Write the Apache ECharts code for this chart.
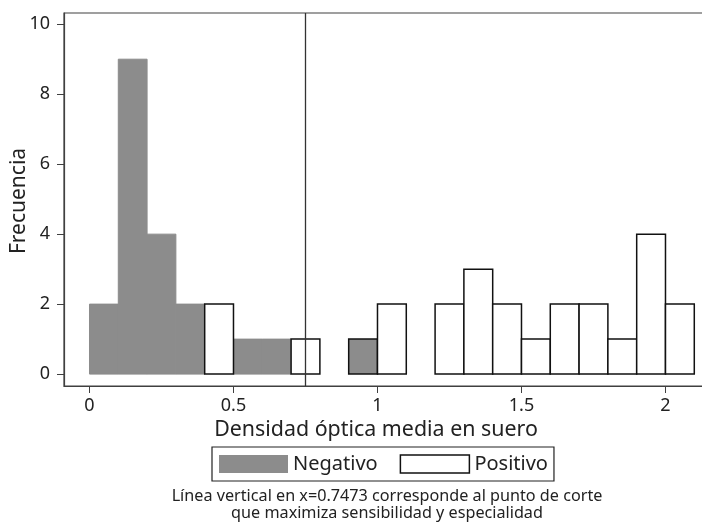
<!DOCTYPE html>
<html>
<head>
<meta charset="utf-8">
<script src="https://cdn.jsdelivr.net/npm/echarts@6/dist/echarts.min.js"></script>
<style>html,body{margin:0;padding:0;background:#fff}#c{width:702px;height:522px}</style>
</head>
<body>
<div id="c"></div>
<script>
// Data
const binStarts = [0.0,0.1,0.2,0.3,0.4,0.5,0.6,0.7,0.8,0.9,1.0,1.1,1.2,1.3,1.4,1.5,1.6,1.7,1.8,1.9,2.0];
const binWidth = 0.1;
const negativo = [2,9,4,2,0,1,1,0,0,1,0,0,0,0,0,0,0,0,0,0,0];
const positivo = [0,0,0,0,2,0,0,1,0,0,2,0,2,3,2,1,2,2,1,4,2];
const cutoff = 0.7473;
const xTicks = [0, 0.5, 1, 1.5, 2];
const xTickLabels = ['0', '0.5', '1', '1.5', '2'];
const yTicks = [0, 2, 4, 6, 8, 10];
const outlinedNegBins = [0.9];
const yTitle = 'Frecuencia';
const note = 'Línea vertical en x=0.7473 corresponde al punto de corte\nque maximiza sensibilidad y especialidad';

const FONT = 'Noto Sans';
const GRAY = '#8c8c8c';

function toData(counts) {
  return binStarts.map((s, i) => [s, counts[i]]).filter(d => d[1] > 0);
}

function makeRender(fill, strokeFn, defaultStroke) {
  return function (params, api) {
    const x0 = api.value(0), c = api.value(1);
    const p0 = api.coord([x0, 0]);
    const p1 = api.coord([x0 + binWidth, c]);
    const s = strokeFn(x0);
    return {
      type: 'rect',
      shape: {x: p0[0], y: p1[1], width: p1[0] - p0[0], height: p0[1] - p1[1]},
      style: {fill: fill, stroke: s ? '#111' : defaultStroke, lineWidth: s ? 1.5 : 1}
    };
  };
}

const chart = echarts.init(document.getElementById('c'), null, {renderer: 'canvas'});
chart.setOption({
  animation: false,
  textStyle: {fontFamily: FONT},
  grid: {left: 64, right: -10, top: 13, bottom: 136, outerBoundsMode: 'none', containLabel: false,
    show: true, borderColor: '#404040', borderWidth: 1.2, backgroundColor: 'transparent'},
  xAxis: {
    type: 'value', min: -0.0885, max: -0.0885 + 648 / 288,
    splitLine: {show: false},
    axisLine: {show: true, onZero: false, lineStyle: {color: '#404040', width: 1.2}},
    axisTick: {show: true, length: 7, lineStyle: {color: '#404040'}, customValues: xTicks},
    axisLabel: {fontSize: 18, color: '#222', fontFamily: FONT, margin: 11, customValues: xTicks,
      formatter: v => { const i = xTicks.indexOf(v); return i >= 0 ? xTickLabels[i] : ''; }},
    name: 'Densidad óptica media en suero', nameLocation: 'middle', nameGap: 28,
    nameTextStyle: {fontSize: 21.4, color: '#222', fontFamily: FONT, padding: [0, 24, 0, 0]}
  },
  yAxis: {
    type: 'value', min: -0.34, max: 10.32,
    splitLine: {show: false},
    axisLine: {show: true, onZero: false, lineStyle: {color: '#404040', width: 1.2}},
    axisTick: {show: true, length: 7, lineStyle: {color: '#404040'}, customValues: yTicks},
    axisLabel: {fontSize: 18, color: '#222', fontFamily: FONT, margin: 14, customValues: yTicks}
  },
  legend: {
    left: 212, top: 447, orient: 'horizontal',
    padding: [7, 6, 7, 7], itemGap: 22, itemWidth: 69, itemHeight: 18,
    borderColor: '#222', borderWidth: 1.2, backgroundColor: '#fff',
    textStyle: {fontSize: 20, color: '#222', fontFamily: FONT},
    icon: 'rect',
    data: [
      {name: 'Negativo', itemStyle: {color: GRAY, borderWidth: 0}},
      {name: 'Positivo', itemStyle: {color: '#fff', borderColor: '#111', borderWidth: 1.5}}
    ]
  },
  graphic: [{
    type: 'text', silent: true,
    style: {
      text: note, x: 387, y: 488, textAlign: 'center', textVerticalAlign: 'top',
      fontSize: 16.2, fontFamily: FONT, fill: '#222', lineHeight: 17
    }
  }, {
    type: 'text', silent: true, x: 19, y: 201, rotation: Math.PI / 2,
    style: {
      text: yTitle, x: 0, y: 0, textAlign: 'center', textVerticalAlign: 'middle',
      fontSize: 21, fontFamily: FONT, fill: '#222'
    }
  }],
  series: [
    {
      name: 'Negativo', type: 'custom', data: toData(negativo),
      itemStyle: {color: GRAY},
      renderItem: makeRender(GRAY, x0 => outlinedNegBins.some(v => Math.abs(v - x0) < 1e-6), GRAY),
      z: 2
    },
    {
      name: 'Positivo', type: 'custom', data: toData(positivo),
      itemStyle: {color: '#fff', borderColor: '#111'},
      renderItem: makeRender('#fff', () => true, '#111'),
      z: 3,
      markLine: {
        silent: true, symbol: 'none', label: {show: false},
        lineStyle: {color: '#333', width: 1.3, type: 'solid'},
        data: [{xAxis: cutoff}]
      }
    }
  ]
});
</script>
</body>
</html>
